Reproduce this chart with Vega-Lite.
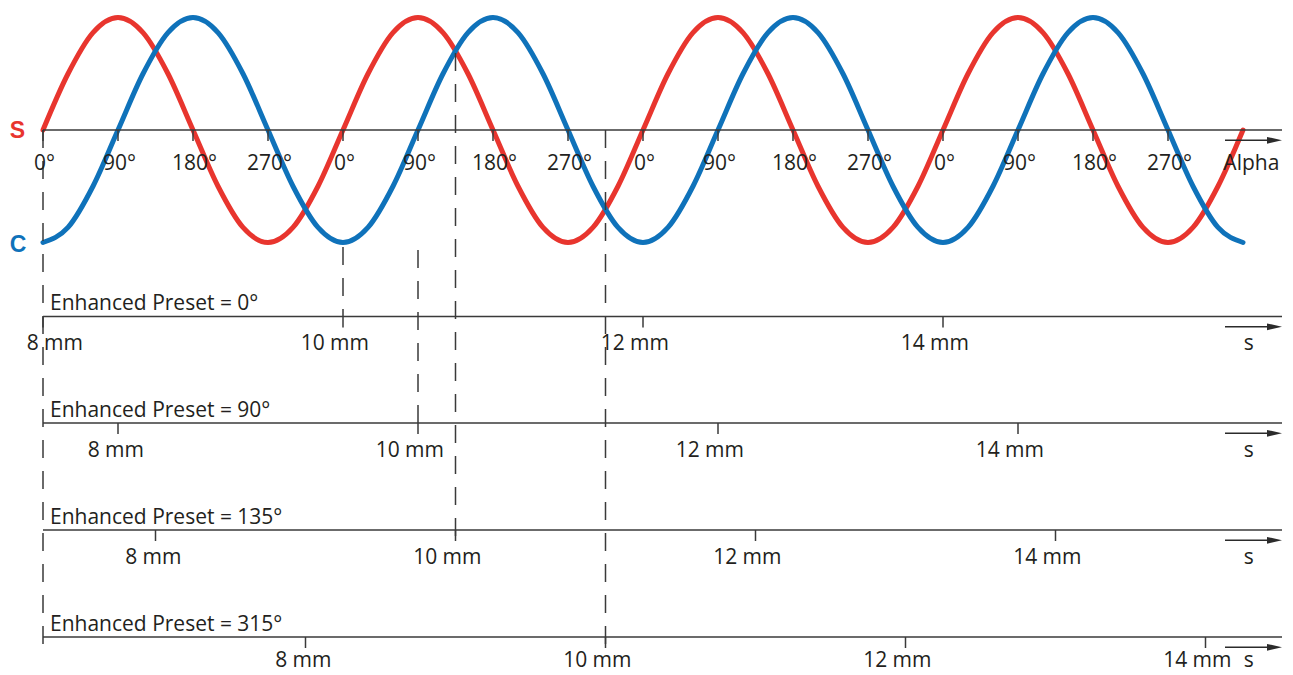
{
  "$schema": "https://vega.github.io/schema/vega-lite/v6.json",
  "width": 1293,
  "height": 675,
  "autosize": "none",
  "padding": 0,
  "background": "white",
  "config": {"view": {"stroke": null}, "font": "Open Sans"},
  "datasets": {
    "sin": [
      {"a":0,"v":0},{"a":30,"v":0.5},{"a":60,"v":0.866},{"a":90,"v":1},{"a":120,"v":0.866},{"a":150,"v":0.5},
      {"a":180,"v":0},{"a":210,"v":-0.5},{"a":240,"v":-0.866},{"a":270,"v":-1},{"a":300,"v":-0.866},{"a":330,"v":-0.5},
      {"a":360,"v":0},{"a":390,"v":0.5},{"a":420,"v":0.866},{"a":450,"v":1},{"a":480,"v":0.866},{"a":510,"v":0.5},
      {"a":540,"v":0},{"a":570,"v":-0.5},{"a":600,"v":-0.866},{"a":630,"v":-1},{"a":660,"v":-0.866},{"a":690,"v":-0.5},
      {"a":720,"v":0},{"a":750,"v":0.5},{"a":780,"v":0.866},{"a":810,"v":1},{"a":840,"v":0.866},{"a":870,"v":0.5},
      {"a":900,"v":0},{"a":930,"v":-0.5},{"a":960,"v":-0.866},{"a":990,"v":-1},{"a":1020,"v":-0.866},{"a":1050,"v":-0.5},
      {"a":1080,"v":0},{"a":1110,"v":0.5},{"a":1140,"v":0.866},{"a":1170,"v":1},{"a":1200,"v":0.866},{"a":1230,"v":0.5},
      {"a":1260,"v":0},{"a":1290,"v":-0.5},{"a":1320,"v":-0.866},{"a":1350,"v":-1},{"a":1380,"v":-0.866},{"a":1410,"v":-0.5},
      {"a":1440,"v":0}
    ],
    "cos": [
      {"a":0,"v":-1},{"a":30,"v":-0.866},{"a":60,"v":-0.5},{"a":90,"v":0},{"a":120,"v":0.5},{"a":150,"v":0.866},
      {"a":180,"v":1},{"a":210,"v":0.866},{"a":240,"v":0.5},{"a":270,"v":0},{"a":300,"v":-0.5},{"a":330,"v":-0.866},
      {"a":360,"v":-1},{"a":390,"v":-0.866},{"a":420,"v":-0.5},{"a":450,"v":0},{"a":480,"v":0.5},{"a":510,"v":0.866},
      {"a":540,"v":1},{"a":570,"v":0.866},{"a":600,"v":0.5},{"a":630,"v":0},{"a":660,"v":-0.5},{"a":690,"v":-0.866},
      {"a":720,"v":-1},{"a":750,"v":-0.866},{"a":780,"v":-0.5},{"a":810,"v":0},{"a":840,"v":0.5},{"a":870,"v":0.866},
      {"a":900,"v":1},{"a":930,"v":0.866},{"a":960,"v":0.5},{"a":990,"v":0},{"a":1020,"v":-0.5},{"a":1050,"v":-0.866},
      {"a":1080,"v":-1},{"a":1110,"v":-0.866},{"a":1140,"v":-0.5},{"a":1170,"v":0},{"a":1200,"v":0.5},{"a":1230,"v":0.866},
      {"a":1260,"v":1},{"a":1290,"v":0.866},{"a":1320,"v":0.5},{"a":1350,"v":0},{"a":1380,"v":-0.5},{"a":1410,"v":-0.866},
      {"a":1440,"v":-1}
    ],
    "levels": [
      {"n":"Alpha","v":0},{"n":"P0","v":-1.6578},{"n":"P90","v":-2.6044},{"n":"P135","v":-3.5556},{"n":"P315","v":-4.5067}
    ],
    "presets": [
      {"t":"Enhanced Preset = 0°","v":-1.6578},
      {"t":"Enhanced Preset = 90°","v":-2.6044},
      {"t":"Enhanced Preset = 135°","v":-3.5556},
      {"t":"Enhanced Preset = 315°","v":-4.5067}
    ],
    "degs": [
      {"a":0,"t":"0°"},{"a":90,"t":"90°"},{"a":180,"t":"180°"},{"a":270,"t":"270°"},
      {"a":360,"t":"0°"},{"a":450,"t":"90°"},{"a":540,"t":"180°"},{"a":630,"t":"270°"},
      {"a":720,"t":"0°"},{"a":810,"t":"90°"},{"a":900,"t":"180°"},{"a":990,"t":"270°"},
      {"a":1080,"t":"0°"},{"a":1170,"t":"90°"},{"a":1260,"t":"180°"},{"a":1350,"t":"270°"}
    ],
    "rt": [
      {"p":0,"mm":8,"a":0,"v":-1.6578,"t":"8 mm"},{"p":0,"mm":10,"a":360,"v":-1.6578,"t":"10 mm"},
      {"p":0,"mm":12,"a":720,"v":-1.6578,"t":"12 mm"},{"p":0,"mm":14,"a":1080,"v":-1.6578,"t":"14 mm"},
      {"p":90,"mm":8,"a":90,"v":-2.6044,"t":"8 mm"},{"p":90,"mm":10,"a":450,"v":-2.6044,"t":"10 mm"},
      {"p":90,"mm":12,"a":810,"v":-2.6044,"t":"12 mm"},{"p":90,"mm":14,"a":1170,"v":-2.6044,"t":"14 mm"},
      {"p":135,"mm":8,"a":135,"v":-3.5556,"t":"8 mm"},{"p":135,"mm":10,"a":495,"v":-3.5556,"t":"10 mm"},
      {"p":135,"mm":12,"a":855,"v":-3.5556,"t":"12 mm"},{"p":135,"mm":14,"a":1215,"v":-3.5556,"t":"14 mm"},
      {"p":315,"mm":8,"a":315,"v":-4.5067,"t":"8 mm"},{"p":315,"mm":10,"a":675,"v":-4.5067,"t":"10 mm"},
      {"p":315,"mm":12,"a":1035,"v":-4.5067,"t":"12 mm"},{"p":315,"mm":14,"a":1395,"v":-4.5067,"t":"14 mm"}
    ],
    "dashes": [
      {"a":0,"top":0,"bottom":-4.62},
      {"a":360,"top":-1.04,"bottom":-1.66},
      {"a":450,"top":-1.067,"bottom":-2.7},
      {"a":495,"top":0.684,"bottom":-3.65},
      {"a":675,"top":0,"bottom":-4.6}
    ],
    "snames": [
      {"p":0,"a":1447,"v":-1.6578,"t":"s"},{"p":90,"a":1447,"v":-2.6044,"t":"s"},{"p":135,"a":1447,"v":-3.5556,"t":"s"},{"p":315,"a":1447,"v":-4.5067,"t":"s"}
    ],
    "alpha": [{"a":1450,"v":0,"t":"Alpha"}],
    "sc": [{"a":-30.6,"v":0,"t":"S","c":"S"},{"a":-30,"v":-1.01,"t":"C","c":"C"}]
  },
  "layer": [
    {
      "data": {"name": "sin"},
      "mark": {"type": "line", "interpolate": "monotone", "strokeWidth": 5, "strokeCap": "round", "color": "#E8352E"},
      "encoding": {
        "x": {"field": "a", "type": "quantitative", "scale": {"type": "linear", "domain": [-51.6, 1500], "nice": false, "zero": false}, "axis": null},
        "y": {"field": "v", "type": "quantitative", "scale": {"type": "linear", "domain": [-4.8444, 1.1556], "nice": false, "zero": false}, "axis": null}
      }
    },
    {
      "data": {"name": "cos"},
      "mark": {"type": "line", "interpolate": "monotone", "strokeWidth": 5, "strokeCap": "round", "color": "#0F72BA"},
      "encoding": {
        "x": {"field": "a", "type": "quantitative"},
        "y": {"field": "v", "type": "quantitative"}
      }
    },
    {
      "data": {"name": "dashes"},
      "mark": {"type": "rule", "strokeDash": [18, 13], "strokeWidth": 1.5, "color": "#3a3a3a"},
      "encoding": {
        "x": {"field": "a", "type": "quantitative"},
        "y": {"field": "top", "type": "quantitative"},
        "y2": {"field": "bottom"}
      }
    },
    {
      "data": {"name": "levels"},
      "mark": {"type": "rule", "strokeWidth": 1.5, "color": "#3a3a3a"},
      "encoding": {
        "x": {"datum": 0, "type": "quantitative"},
        "x2": {"datum": 1486.8},
        "y": {"field": "v", "type": "quantitative"}
      }
    },
    {
      "data": {"name": "levels"},
      "mark": {"type": "rule", "strokeWidth": 1.5, "color": "#2b2b2b", "yOffset": 10.3},
      "encoding": {
        "x": {"datum": 1418.4, "type": "quantitative"},
        "x2": {"datum": 1470},
        "y": {"field": "v", "type": "quantitative"}
      }
    },
    {
      "data": {"name": "levels"},
      "mark": {"type": "point", "shape": "M-1,-0.45L1,0L-1,0.45Z", "size": 225, "filled": true, "opacity": 1, "color": "#2b2b2b", "yOffset": 10.3},
      "encoding": {
        "x": {"datum": 1477.8, "type": "quantitative"},
        "y": {"field": "v", "type": "quantitative"}
      }
    },
    {
      "data": {"name": "degs"},
      "mark": {"type": "tick", "orient": "vertical", "size": 11, "thickness": 1.5, "yOffset": 5.5, "color": "#3a3a3a", "opacity": 1},
      "encoding": {
        "x": {"field": "a", "type": "quantitative"},
        "y": {"datum": 0, "type": "quantitative"}
      }
    },
    {
      "data": {"name": "rt"},
      "mark": {"type": "tick", "orient": "vertical", "size": 11, "thickness": 1.5, "yOffset": 5.5, "color": "#3a3a3a", "opacity": 1},
      "encoding": {
        "x": {"field": "a", "type": "quantitative"},
        "y": {"field": "v", "type": "quantitative"}
      }
    },
    {
      "data": {"name": "degs"},
      "mark": {"type": "text", "fontSize": 21, "align": "center", "baseline": "alphabetic", "dx": 1.5, "dy": 39.5, "color": "#231F20"},
      "encoding": {
        "x": {"field": "a", "type": "quantitative"},
        "y": {"datum": 0, "type": "quantitative"},
        "text": {"field": "t"}
      }
    },
    {
      "data": {"name": "alpha"},
      "mark": {"type": "text", "fontSize": 21, "align": "center", "baseline": "alphabetic", "dy": 39.5, "color": "#231F20"},
      "encoding": {
        "x": {"field": "a", "type": "quantitative"},
        "y": {"field": "v", "type": "quantitative"},
        "text": {"field": "t"}
      }
    },
    {
      "data": {"name": "presets"},
      "mark": {"type": "text", "fontSize": 21, "align": "left", "baseline": "alphabetic", "dx": 7, "dy": -6.5, "color": "#231F20"},
      "encoding": {
        "x": {"datum": 0, "type": "quantitative"},
        "y": {"field": "v", "type": "quantitative"},
        "text": {"field": "t"}
      }
    },
    {
      "data": {"name": "rt"},
      "transform": [{"filter": "!(datum.p == 0 && datum.mm == 8) && datum.p != 315"}],
      "mark": {"type": "text", "fontSize": 21, "align": "right", "baseline": "alphabetic", "dx": 26, "dy": 33.5, "color": "#231F20"},
      "encoding": {
        "x": {"field": "a", "type": "quantitative"},
        "y": {"field": "v", "type": "quantitative"},
        "text": {"field": "t"}
      }
    },
    {
      "data": {"name": "rt"},
      "transform": [{"filter": "datum.p == 315"}],
      "mark": {"type": "text", "fontSize": 21, "align": "right", "baseline": "alphabetic", "dx": 26, "dy": 30, "color": "#231F20"},
      "encoding": {
        "x": {"field": "a", "type": "quantitative"},
        "y": {"field": "v", "type": "quantitative"},
        "text": {"field": "t"}
      }
    },
    {
      "data": {"name": "rt"},
      "transform": [{"filter": "datum.p == 0 && datum.mm == 8"}],
      "mark": {"type": "text", "fontSize": 21, "align": "right", "baseline": "alphabetic", "dx": 40, "dy": 33.5, "color": "#231F20"},
      "encoding": {
        "x": {"field": "a", "type": "quantitative"},
        "y": {"field": "v", "type": "quantitative"},
        "text": {"field": "t"}
      }
    },
    {
      "data": {"name": "snames"},
      "transform": [{"filter": "datum.p != 315"}],
      "mark": {"type": "text", "fontSize": 21, "align": "center", "baseline": "alphabetic", "dy": 33.5, "color": "#231F20"},
      "encoding": {
        "x": {"field": "a", "type": "quantitative"},
        "y": {"field": "v", "type": "quantitative"},
        "text": {"field": "t"}
      }
    },
    {
      "data": {"name": "snames"},
      "transform": [{"filter": "datum.p == 315"}],
      "mark": {"type": "text", "fontSize": 21, "align": "center", "baseline": "alphabetic", "dy": 30, "color": "#231F20"},
      "encoding": {
        "x": {"field": "a", "type": "quantitative"},
        "y": {"field": "v", "type": "quantitative"},
        "text": {"field": "t"}
      }
    },
    {
      "data": {"name": "sc"},
      "mark": {"type": "text", "font": "Liberation Sans", "fontSize": 23, "fontWeight": "bold", "align": "center", "baseline": "middle", "dy": 1},
      "encoding": {
        "x": {"field": "a", "type": "quantitative"},
        "y": {"field": "v", "type": "quantitative"},
        "text": {"field": "t"},
        "color": {"field": "c", "type": "nominal", "scale": {"domain": ["S", "C"], "range": ["#E8352E", "#0F72BA"]}, "legend": null}
      }
    }
  ]
}
